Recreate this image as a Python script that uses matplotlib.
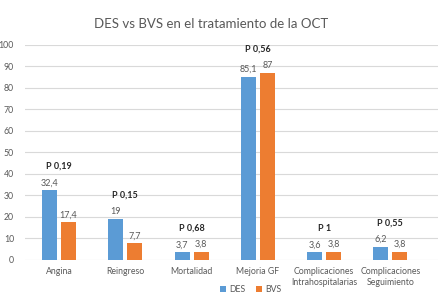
import matplotlib.pyplot as plt
import numpy as np

plt.rcParams['font.family'] = ['Lato', 'DejaVu Sans']

categories = ["Angina", "Reingreso", "Mortalidad", "Mejoria GF",
              "Complicaciones\nIntrahospitalarias", "Complicaciones\nSeguimiento"]
des = [32.4, 19, 3.7, 85.1, 3.6, 6.2]
bvs = [17.4, 7.7, 3.8, 87, 3.8, 3.8]
p_labels = ["P 0,19", "P 0,15", "P 0,68", "P 0,56", "P 1", "P 0,55"]

BLUE = "#5B9BD5"
ORANGE = "#ED7D31"
GRAY = "#595959"


def fmt(v):
    # excel style decimal comma
    s = f"{v:g}"
    return s.replace(".", ",")


fig = plt.figure(figsize=(4.4, 3.03), dpi=100)
ax = fig.add_axes([0.057, 0.142, 0.938, 0.711])

x = np.arange(len(categories))
w = 0.226
off = 0.143
b1 = ax.bar(x - off, des, w, color=BLUE, label="DES", zorder=3)
b2 = ax.bar(x + off, bvs, w, color=ORANGE, label="BVS", zorder=3)

for bars, vals in ((b1, des), (b2, bvs)):
    for r, v in zip(bars, vals):
        ax.annotate(fmt(v), (r.get_x() + r.get_width() / 2, v),
                    xytext=(0, 2), textcoords="offset points",
                    ha="center", va="bottom", fontsize=6.5, color=GRAY)

for i, p in enumerate(p_labels):
    top = max(des[i], bvs[i])
    ax.text(x[i], top + 11, p, ha="center", va="center",
            fontsize=6.5, fontweight="bold", color="#262626")

ax.set_ylim(0, 100)
ax.set_yticks(range(0, 101, 10))
ax.set_xlim(-0.513, 5.716)
ax.set_xticks(x)
ax.set_xticklabels(categories, fontsize=6.3, color=GRAY, linespacing=1.35)
ax.tick_params(axis="y", labelsize=6.3, labelcolor=GRAY, length=0, pad=8)
ax.tick_params(axis="x", length=0, pad=5)
ax.grid(axis="y", color="#D9D9D9", linewidth=0.8, zorder=0)
for s in ax.spines.values():
    s.set_visible(False)

fig.suptitle("DES vs BVS en el tratamiento de la OCT", x=0.48, y=0.94,
             fontsize=9.5, color="#595959")

leg = ax.legend(loc="center", ncol=2, frameon=False, fontsize=6.3,
                handlelength=0.7, handleheight=0.7,
                columnspacing=1.2, handletextpad=0.4)
leg.set_bbox_to_anchor((0.57, 0.045), transform=fig.transFigure)
for t in leg.get_texts():
    t.set_color(GRAY)

fig.savefig("out.png", dpi=100)
